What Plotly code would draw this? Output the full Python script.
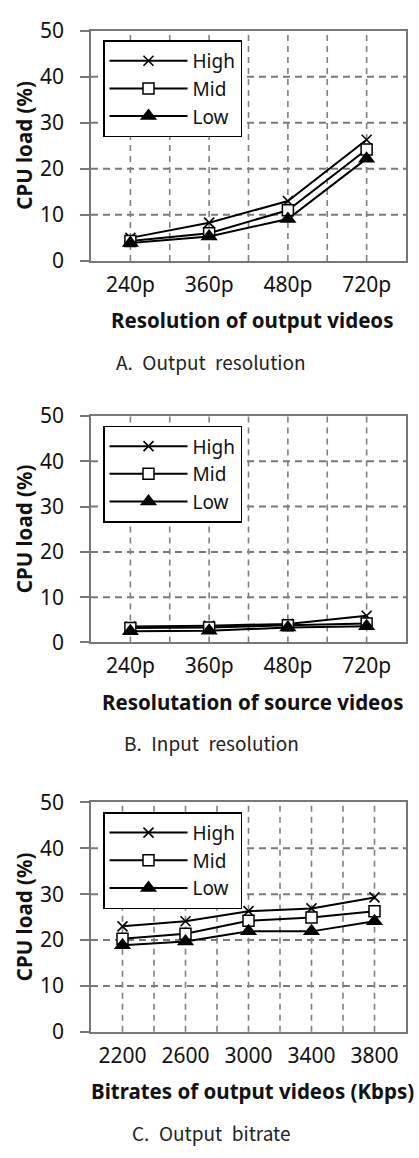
import plotly.graph_objects as go

# ---- data -------------------------------------------------------------
res_labels = ["240p", "360p", "480p", "720p"]
bitrate_labels = ["2200", "2600", "3000", "3400", "3800"]
series_names = ["High", "Mid", "Low"]

# A. CPU load vs. output resolution
out_res_high = [5.0, 8.3, 13.0, 26.3]
out_res_mid = [4.3, 6.0, 11.0, 24.2]
out_res_low = [3.9, 5.3, 9.1, 22.2]

# B. CPU load vs. input (source) resolution
in_res_high = [3.5, 3.7, 4.1, 5.9]
in_res_mid = [3.2, 3.3, 3.8, 4.2]
in_res_low = [2.5, 2.6, 3.3, 3.6]

# C. CPU load vs. output bitrate
bitrate_high = [23.0, 24.1, 26.3, 26.9, 29.3]
bitrate_mid = [20.3, 21.4, 24.2, 24.9, 26.3]
bitrate_low = [18.9, 19.7, 21.9, 21.9, 24.1]

y_ticks = [0, 10, 20, 30, 40, 50]
y_title = "CPU load (%)"
x_titles = ["Resolution of output videos",
            "Resolutation of source videos",
            "Bitrates of output videos (Kbps)"]
captions = ["A.\u2002Output\u2002resolution",
            "B.\u2002Input\u2002resolution",
            "C.\u2002Output\u2002bitrate"]

# ---- layout geometry (pixels) -------------------------------------------
W, H = 419, 1158
PLOT_L, PLOT_R = 91, 406
PANELS = [(16, 252), (411, 643), (807, 1042)]   # (top, bottom) of each plot box


def px_x(v):
    return v / W


def px_y(v):
    return 1 - v / H


SANS = "Noto Sans, Open Sans, sans-serif"
TICK_FONT = dict(family=SANS, size=21, color="#111")
TITLE_FONT = dict(family=SANS, size=20.5, color="#111")
CAP_FONT = dict(family="Noto Sans CJK KR, Noto Sans, sans-serif", size=19, color="#222")
AXIS_COLOR = "#777777"
VGRID_LINE = dict(color="#808080", width=1.6, dash="6px,5px")
HGRID_LINE = dict(color="#7a7a7a", width=2, dash="7px,5px")

styles = {
    "High": dict(symbol="x-thin", size=10, color="black",
                 line=dict(color="black", width=1.6)),
    "Mid": dict(symbol="square", size=11, color="white",
                line=dict(color="black", width=1.5)),
    "Low": dict(symbol="triangle-up", size=15, color="black",
                line=dict(color="black", width=0)),
}

panels = [
    (res_labels, [out_res_high, out_res_mid, out_res_low]),
    (res_labels, [in_res_high, in_res_mid, in_res_low]),
    (bitrate_labels, [bitrate_high, bitrate_mid, bitrate_low]),
]

fig = go.Figure()
annotations = []
shapes = []

for i, ((labels, series), (top, bottom)) in enumerate(zip(panels, PANELS)):
    n = i + 1
    sfx = "" if n == 1 else str(n)
    xa, ya = "x" + sfx, "y" + sfx
    legend_id = "legend" + sfx
    xs = list(range(len(labels)))

    for name, values in zip(series_names, series):
        fig.add_trace(go.Scatter(
            x=xs, y=values, name=name, mode="lines+markers",
            line=dict(color="black", width=2),
            marker=styles[name],
            xaxis=xa, yaxis=ya,
            legend=legend_id, showlegend=True,
        ))

    fig.layout["xaxis" + sfx] = dict(
        domain=[px_x(PLOT_L), px_x(PLOT_R)],
        anchor=ya,
        range=[-0.5, len(labels) - 0.5],
        tickmode="array", tickvals=xs, ticktext=labels,
        ticks="", tickfont=TICK_FONT, ticklabelstandoff=4,
        showgrid=False,
        showline=True, linecolor=AXIS_COLOR, linewidth=1.5, mirror=True,
        zeroline=False, fixedrange=True,
    )
    fig.layout["yaxis" + sfx] = dict(
        domain=[px_y(bottom), px_y(top)],
        anchor=xa,
        range=[y_ticks[0], y_ticks[-1]], tickmode="array", tickvals=y_ticks,
        ticks="outside", ticklen=9, tickcolor=AXIS_COLOR, tickwidth=1.5,
        tickfont=TICK_FONT, ticklabelstandoff=12,
        showgrid=False,
        showline=True, linecolor=AXIS_COLOR, linewidth=1.5, mirror=True,
        zeroline=False, fixedrange=True,
    )

    # dashed grid: horizontal at the inner y ticks, vertical at every
    # category centre and every category boundary
    for v in y_ticks[1:-1]:
        shapes.append(dict(type="line", layer="below",
                           xref=xa + " domain", x0=0, x1=1,
                           yref=ya, y0=v, y1=v, line=HGRID_LINE))
    grid_x = xs + [k + 0.5 for k in range(len(labels) - 1)]
    for v in grid_x:
        shapes.append(dict(type="line", layer="below",
                           xref=xa, x0=v, x1=v,
                           yref=ya + " domain", y0=0, y1=1, line=VGRID_LINE))

    fig.layout[legend_id] = dict(
        x=px_x(PLOT_L + 12), y=px_y(top + 10), xanchor="left", yanchor="top",
        bgcolor="white", bordercolor="black", borderwidth=1.5,
        font=dict(family=SANS, size=19, color="#111"),
        itemwidth=78, tracegroupgap=0,
    )

    annotations.append(dict(
        text=f"<b>{y_title}</b>", textangle=-90, font=TITLE_FONT,
        xref="paper", yref="paper", x=px_x(24), y=px_y((top + bottom) / 2),
        xanchor="center", yanchor="middle", showarrow=False,
    ))
    annotations.append(dict(
        text=f"<b>{x_titles[i]}</b>", font=TITLE_FONT,
        xref="paper", yref="paper", x=px_x(252), y=px_y(bottom + 61),
        xanchor="center", yanchor="middle", showarrow=False,
    ))
    annotations.append(dict(
        text=captions[i], font=CAP_FONT,
        xref="paper", yref="paper", x=px_x(211), y=px_y(bottom + 103),
        xanchor="center", yanchor="middle", showarrow=False,
    ))

fig.update_layout(
    width=W, height=H,
    margin=dict(l=0, r=0, t=0, b=0),
    paper_bgcolor="white", plot_bgcolor="white",
    annotations=annotations, shapes=shapes,
)

fig.write_html("out.html", config={"displayModeBar": False})
